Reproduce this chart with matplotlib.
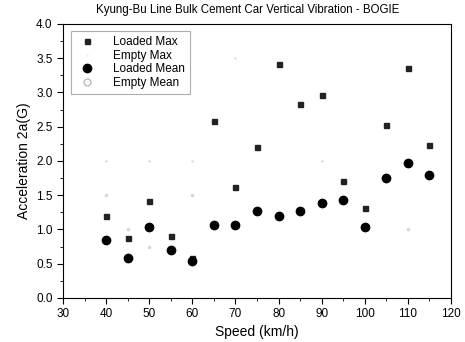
import matplotlib
matplotlib.use("Agg")
import matplotlib.pyplot as plt
from matplotlib.ticker import MultipleLocator

plt.rcParams['font.family'] = ['Liberation Sans', 'DejaVu Sans']

speed = [40, 45, 50, 55, 60, 65, 70, 75, 80, 85, 90, 95, 100, 105, 110, 115]
loaded_max = [1.19, 0.87, 1.42, 0.91, 0.58, 2.59, 1.62, 2.20, 3.42, 2.83, 2.96, 1.71, 1.32, 2.52, 3.35, 2.23]
loaded_mean = [0.85, 0.59, 1.03, 0.70, 0.54, 1.06, 1.07, 1.27, 1.19, 1.27, 1.38, 1.43, 1.03, 1.75, 1.97, 1.80]
# Empty series are barely visible (faded) in the reference
empty_max_x = [40, 50, 60, 70, 90]
empty_max = [2.0, 2.0, 2.0, 3.5, 2.0]
empty_mean_x = [40, 45, 50, 60, 110]
empty_mean = [1.5, 1.0, 0.74, 1.5, 1.0]

title = "Kyung-Bu Line Bulk Cement Car Vertical Vibration - BOGIE"

fig = plt.figure(figsize=(4.65, 3.42), dpi=100)
ax = fig.add_axes([0.1355, 0.1287, 0.8345, 0.8013])

ax.plot(speed, loaded_max, linestyle='none', marker='s', markersize=3.6,
        color='#222222', label='Loaded Max')
ax.plot(empty_max_x, empty_max, linestyle='none', marker='.', markersize=2,
        color='#e0e0e0', label='Empty Max')
ax.plot(speed, loaded_mean, linestyle='none', marker='o', markersize=6,
        color='black', label='Loaded Mean')
ax.plot(empty_mean_x, empty_mean, linestyle='none', marker='o', markersize=1.5,
        markerfacecolor='none', markeredgecolor='#d4d4d4', label='Empty Mean')

ax.set_xlim(30, 120)
ax.set_ylim(0.0, 4.0)
ax.xaxis.set_major_locator(MultipleLocator(10))
ax.xaxis.set_minor_locator(MultipleLocator(5))
ax.yaxis.set_major_locator(MultipleLocator(0.5))
ax.yaxis.set_minor_locator(MultipleLocator(0.25))
ax.yaxis.set_major_formatter(matplotlib.ticker.FormatStrFormatter('%.1f'))
ax.tick_params(which='both', direction='out', top=False, right=False, labelsize=8.5)
ax.tick_params(which='major', length=4)
ax.tick_params(which='minor', length=2.5)

ax.set_xlabel('Speed (km/h)', fontsize=10, labelpad=3)
ax.set_ylabel('Acceleration 2a(G)', fontsize=10, labelpad=4)
fig.text(0.532, 0.97, title, ha='center', va='center', fontsize=8.3)

leg = ax.legend(loc='upper left', fontsize=8.5, frameon=True, fancybox=False,
                handletextpad=1.2, labelspacing=0.15, borderpad=0.4,
                bbox_to_anchor=(0.005, 0.995))
leg.get_frame().set_edgecolor('#999999')
leg.get_frame().set_linewidth(0.8)
leg.legend_handles[1].set_color('#f2f2f2')
leg.legend_handles[3].set_markersize(5)
leg.legend_handles[3].set_markeredgecolor('#bbbbbb')

fig.savefig('out.png', dpi=100)
